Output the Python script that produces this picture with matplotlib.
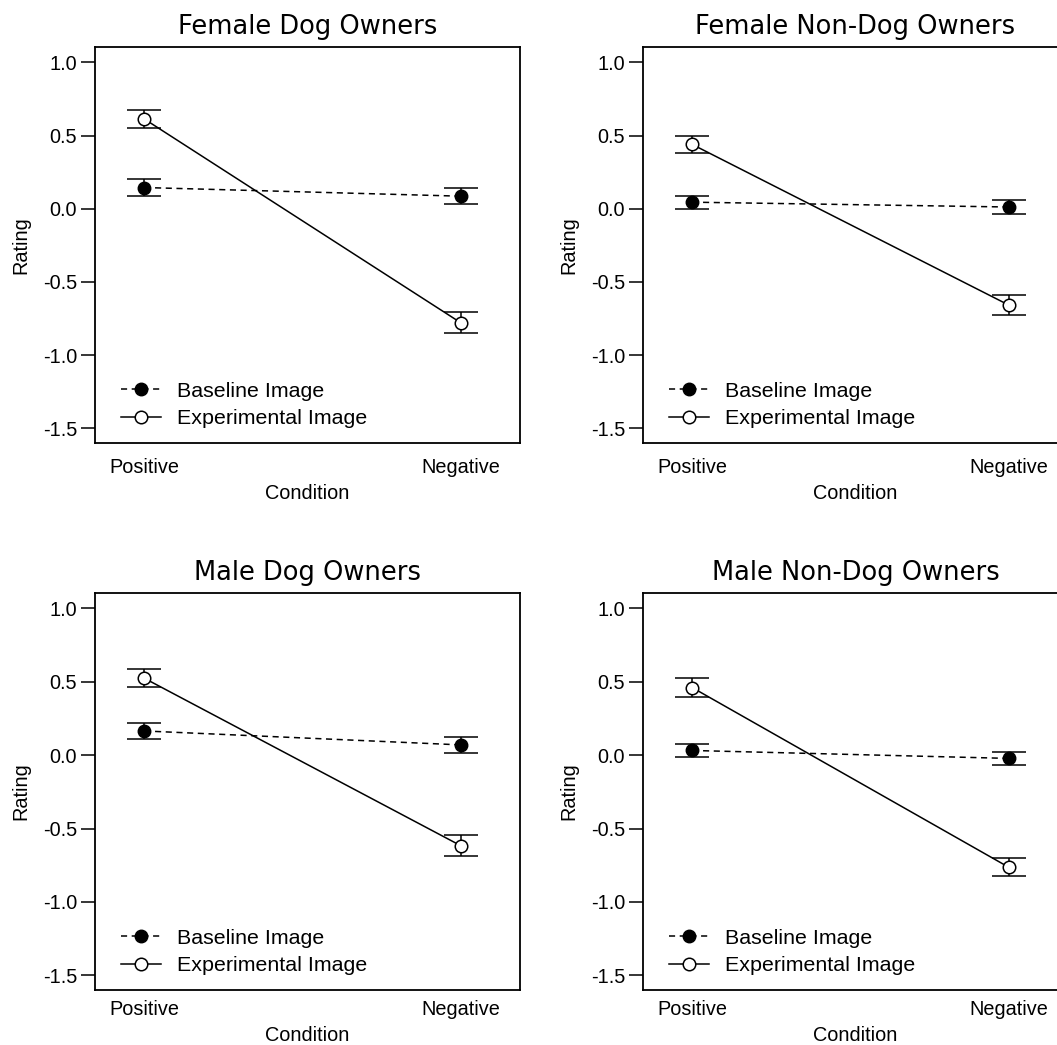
import numpy as np
import matplotlib
matplotlib.use('Agg')
from matplotlib import pyplot as plt

# =============================================================================
# Data
# =============================================================================
conditions = ['Positive', 'Negative']
titles = ['Female Dog Owners', 'Female Non-Dog Owners',
          'Male Dog Owners', 'Male Non-Dog Owners']

baseline_mean = [[0.145, 0.086], [0.045, 0.012], [0.165, 0.070], [0.032, -0.022]]
baseline_se = [[0.055, 0.053], [0.045, 0.047], [0.057, 0.055], [0.043, 0.047]]
experimental_mean = [[0.613, -0.779], [0.439, -0.658], [0.524, -0.617], [0.460, -0.764]]
experimental_se = [[0.060, 0.072], [0.055, 0.069], [0.060, 0.070], [0.063, 0.061]]

yticks = [1.0, 0.5, 0.0, -0.5, -1.0, -1.5]

# axes boxes in pixels: left, top, width, height
W, H = 1057, 1045
boxes = [(95, 47, 425, 396), (643, 47, 425, 396),
         (95, 593, 425, 397), (643, 593, 425, 397)]
xpads = [11, 11, 7.5, 7.5]

plt.rcParams['font.family'] = ['Liberation Sans', 'DejaVu Sans']

fig = plt.figure(figsize=(W / 100, H / 100), dpi=100)
x = np.array([1, 2])

for i, (l, t, w, h) in enumerate(boxes):
    ax = fig.add_axes([l / W, 1 - (t + h) / H, w / W, h / H])

    ax.errorbar(x, baseline_mean[i], yerr=baseline_se[i], fmt='none',
                ecolor='black', elinewidth=1.1, capsize=12, capthick=1.1, zorder=2)
    ax.errorbar(x, experimental_mean[i], yerr=experimental_se[i], fmt='none',
                ecolor='black', elinewidth=1.1, capsize=12, capthick=1.1, zorder=2)
    ax.plot(x, baseline_mean[i], linestyle=(0, (4, 3)), color='black', lw=1.1,
            marker='o', markersize=9, markerfacecolor='black',
            markeredgecolor='black', label='Baseline Image', zorder=3)
    ax.plot(x, experimental_mean[i], linestyle='-', color='black', lw=1.1,
            marker='o', markersize=9, markerfacecolor='white',
            markeredgecolor='black', markeredgewidth=1.1,
            label='Experimental Image', zorder=3)

    ax.set_xlim(0.844, 2.187)
    ax.set_ylim(-1.6, 1.105)
    ax.set_xticks(x)
    ax.set_xticklabels(conditions, fontsize=14.3)
    ax.set_yticks(yticks)
    ax.set_yticklabels(['%.1f' % v for v in yticks], fontsize=14.3)
    ax.tick_params(axis='x', length=0, pad=xpads[i])
    ax.tick_params(axis='y', length=10, width=1.1, pad=3)
    ax.set_xlabel('Condition', fontsize=14.3, labelpad=5)
    ax.set_ylabel('Rating', fontsize=14.3, labelpad=9)
    ax.set_title(titles[i], fontsize=18.5, family='DejaVu Sans', pad=9)
    for sp in ax.spines.values():
        sp.set_linewidth(1.3)

    ax.legend(loc='lower left', bbox_to_anchor=(0.062, 0.037), frameon=False,
              fontsize=15.4, handlelength=1.85, handletextpad=0.75,
              labelspacing=0.4, borderpad=0, borderaxespad=0)

fig.savefig('out.png', dpi=100)
